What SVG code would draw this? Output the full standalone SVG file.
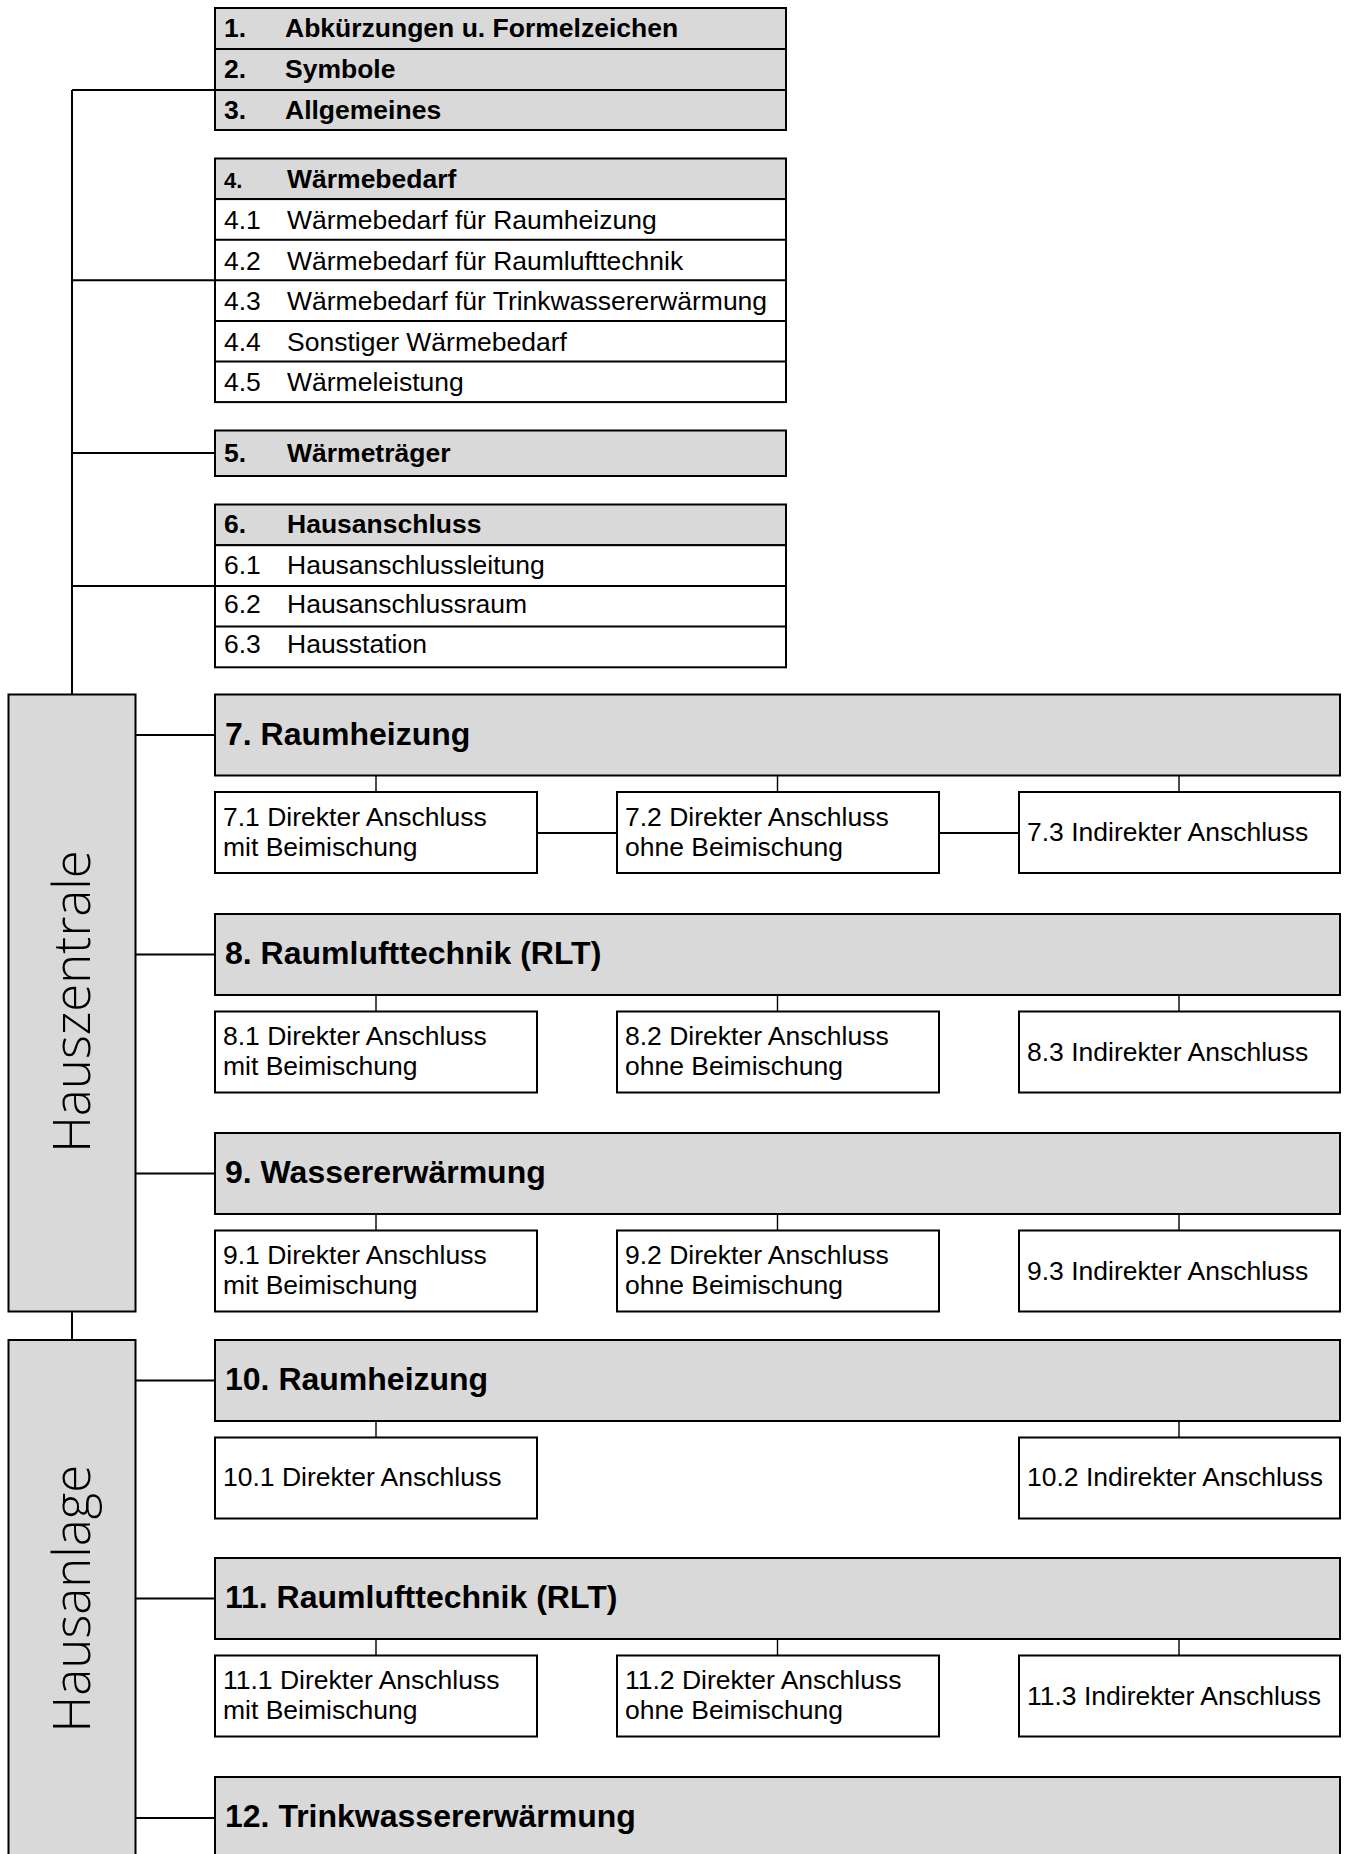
<svg xmlns="http://www.w3.org/2000/svg" width="1345" height="1854" viewBox="0 0 1345 1854">
<style>
.g{fill:#d9d9d9;stroke:#000;stroke-width:2}
.w{fill:#fff;stroke:#000;stroke-width:2}
.dv{stroke:#000;stroke-width:2;fill:none}
.ln{stroke:#000;stroke-width:2;fill:none}
.tk{stroke:#000;stroke-width:1.4;fill:none}
text{font-family:"Liberation Sans",Arial,sans-serif;fill:#000}
.b{font-weight:bold;font-size:26.5px}
.r{font-size:26.5px}
.h{font-weight:bold;font-size:32px}
.c{font-size:26.5px}
.side{font-family:"Open Sans","Liberation Sans",sans-serif;font-weight:300;font-size:51px;text-anchor:middle}
</style>
<rect width="1345" height="1854" fill="#fff"/>

<g id="connectors">
  <path class="ln" d="M72 90V694.5M72 90H215M72 280.3H215M72 453H215M72 585.9H215M72 1311.5V1340"/>
  <path class="ln" d="M135.5 735H215M135.5 954.5H215M135.5 1173.5H215M135.5 1380.5H215M135.5 1598.5H215M135.5 1818H215"/>
  <path class="tk" d="M376 775.5V792M777.5 775.5V792M1179 775.5V792"/>
  <path class="tk" d="M376 995V1011.5M777.5 995V1011.5M1179 995V1011.5"/>
  <path class="tk" d="M376 1214V1230.5M777.5 1214V1230.5M1179 1214V1230.5"/>
  <path class="tk" d="M376 1421V1437.5M1179 1421V1437.5"/>
  <path class="tk" d="M376 1639V1655.5M777.5 1639V1655.5M1179 1639V1655.5"/>
  <path class="ln" d="M537 833H617M939 833H1019"/>
</g>

<g id="n1"><rect class="g" x="215" y="8" width="571" height="41"/><text class="b" x="224" y="37">1.</text><text class="b" x="285" y="37">Abkürzungen u. Formelzeichen</text></g>
<g id="n2"><rect class="g" x="215" y="49" width="571" height="41"/><text class="b" x="224" y="78">2.</text><text class="b" x="285" y="78">Symbole</text></g>
<g id="n3"><rect class="g" x="215" y="90" width="571" height="40"/><text class="b" x="224" y="119">3.</text><text class="b" x="285" y="119">Allgemeines</text></g>

<g id="n4">
  <rect class="g" x="215" y="158.5" width="571" height="40.6"/>
  <rect class="w" x="215" y="199.1" width="571" height="203"/>
  <path class="dv" d="M215 239.7H786M215 280.3H786M215 320.9H786M215 361.5H786"/>
  <text class="b" x="224" y="187.5" style="font-size:22px">4.</text><text class="b" x="287" y="187.5">Wärmebedarf</text>
  <text class="r" x="224" y="229">4.1</text><text class="r" x="287" y="229">Wärmebedarf für Raumheizung</text>
  <text class="r" x="224" y="269.6">4.2</text><text class="r" x="287" y="269.6">Wärmebedarf für Raumlufttechnik</text>
  <text class="r" x="224" y="310.2">4.3</text><text class="r" x="287" y="310.2">Wärmebedarf für Trinkwassererwärmung</text>
  <text class="r" x="224" y="350.8">4.4</text><text class="r" x="287" y="350.8">Sonstiger Wärmebedarf</text>
  <text class="r" x="224" y="391.4">4.5</text><text class="r" x="287" y="391.4">Wärmeleistung</text>
</g>

<g id="n5"><rect class="g" x="215" y="430.5" width="571" height="45.5"/><text class="b" x="224" y="461.5">5.</text><text class="b" x="287" y="461.5">Wärmeträger</text></g>

<g id="n6">
  <rect class="g" x="215" y="504.5" width="571" height="40.7"/>
  <rect class="w" x="215" y="545.2" width="571" height="122.1"/>
  <path class="dv" d="M215 585.9H786M215 626.6H786"/>
  <text class="b" x="224" y="533">6.</text><text class="b" x="287" y="533">Hausanschluss</text>
  <text class="r" x="224" y="573.7">6.1</text><text class="r" x="287" y="573.7">Hausanschlussleitung</text>
  <text class="r" x="224" y="613.4">6.2</text><text class="r" x="287" y="613.4">Hausanschlussraum</text>
  <text class="r" x="224" y="653.1">6.3</text><text class="r" x="287" y="653.1">Hausstation</text>
</g>

<g id="hauszentrale"><rect class="g" x="8.5" y="694.5" width="127" height="617"/><text class="side" transform="translate(90 1001.5) rotate(-90)">Hauszentrale</text></g>
<g id="hausanlage"><rect class="g" x="8.5" y="1340" width="127" height="520"/><text class="side" transform="translate(90 1598.5) rotate(-90)">Hausanlage</text></g>

<g id="n7"><rect class="g" x="215" y="694.5" width="1125" height="81"/><text class="h" x="225" y="744.5">7. Raumheizung</text></g>
<g id="n7-1"><rect class="w" x="215" y="792" width="322" height="81"/><text class="c" x="223" y="825.5">7.1 Direkter Anschluss</text><text class="c" x="223" y="855.5">mit Beimischung</text></g>
<g id="n7-2"><rect class="w" x="617" y="792" width="322" height="81"/><text class="c" x="625" y="825.5">7.2 Direkter Anschluss</text><text class="c" x="625" y="855.5">ohne Beimischung</text></g>
<g id="n7-3"><rect class="w" x="1019" y="792" width="321" height="81"/><text class="c" x="1027" y="841">7.3 Indirekter Anschluss</text></g>

<g id="n8"><rect class="g" x="215" y="914" width="1125" height="81"/><text class="h" x="225" y="964">8. Raumlufttechnik (RLT)</text></g>
<g id="n8-1"><rect class="w" x="215" y="1011.5" width="322" height="81"/><text class="c" x="223" y="1045">8.1 Direkter Anschluss</text><text class="c" x="223" y="1075">mit Beimischung</text></g>
<g id="n8-2"><rect class="w" x="617" y="1011.5" width="322" height="81"/><text class="c" x="625" y="1045">8.2 Direkter Anschluss</text><text class="c" x="625" y="1075">ohne Beimischung</text></g>
<g id="n8-3"><rect class="w" x="1019" y="1011.5" width="321" height="81"/><text class="c" x="1027" y="1060.5">8.3 Indirekter Anschluss</text></g>

<g id="n9"><rect class="g" x="215" y="1133" width="1125" height="81"/><text class="h" x="225" y="1183">9. Wassererwärmung</text></g>
<g id="n9-1"><rect class="w" x="215" y="1230.5" width="322" height="81"/><text class="c" x="223" y="1264">9.1 Direkter Anschluss</text><text class="c" x="223" y="1294">mit Beimischung</text></g>
<g id="n9-2"><rect class="w" x="617" y="1230.5" width="322" height="81"/><text class="c" x="625" y="1264">9.2 Direkter Anschluss</text><text class="c" x="625" y="1294">ohne Beimischung</text></g>
<g id="n9-3"><rect class="w" x="1019" y="1230.5" width="321" height="81"/><text class="c" x="1027" y="1279.5">9.3 Indirekter Anschluss</text></g>

<g id="n10"><rect class="g" x="215" y="1340" width="1125" height="81"/><text class="h" x="225" y="1390">10. Raumheizung</text></g>
<g id="n10-1"><rect class="w" x="215" y="1437.5" width="322" height="81"/><text class="c" x="223" y="1486">10.1 Direkter Anschluss</text></g>
<g id="n10-2"><rect class="w" x="1019" y="1437.5" width="321" height="81"/><text class="c" x="1027" y="1486">10.2 Indirekter Anschluss</text></g>

<g id="n11"><rect class="g" x="215" y="1558" width="1125" height="81"/><text class="h" x="225" y="1608">11. Raumlufttechnik (RLT)</text></g>
<g id="n11-1"><rect class="w" x="215" y="1655.5" width="322" height="81"/><text class="c" x="223" y="1689">11.1 Direkter Anschluss</text><text class="c" x="223" y="1719">mit Beimischung</text></g>
<g id="n11-2"><rect class="w" x="617" y="1655.5" width="322" height="81"/><text class="c" x="625" y="1689">11.2 Direkter Anschluss</text><text class="c" x="625" y="1719">ohne Beimischung</text></g>
<g id="n11-3"><rect class="w" x="1019" y="1655.5" width="321" height="81"/><text class="c" x="1027" y="1704.5">11.3 Indirekter Anschluss</text></g>

<g id="n12"><rect class="g" x="215" y="1777" width="1125" height="90"/><text class="h" x="225" y="1827">12. Trinkwassererwärmung</text></g>
</svg>
